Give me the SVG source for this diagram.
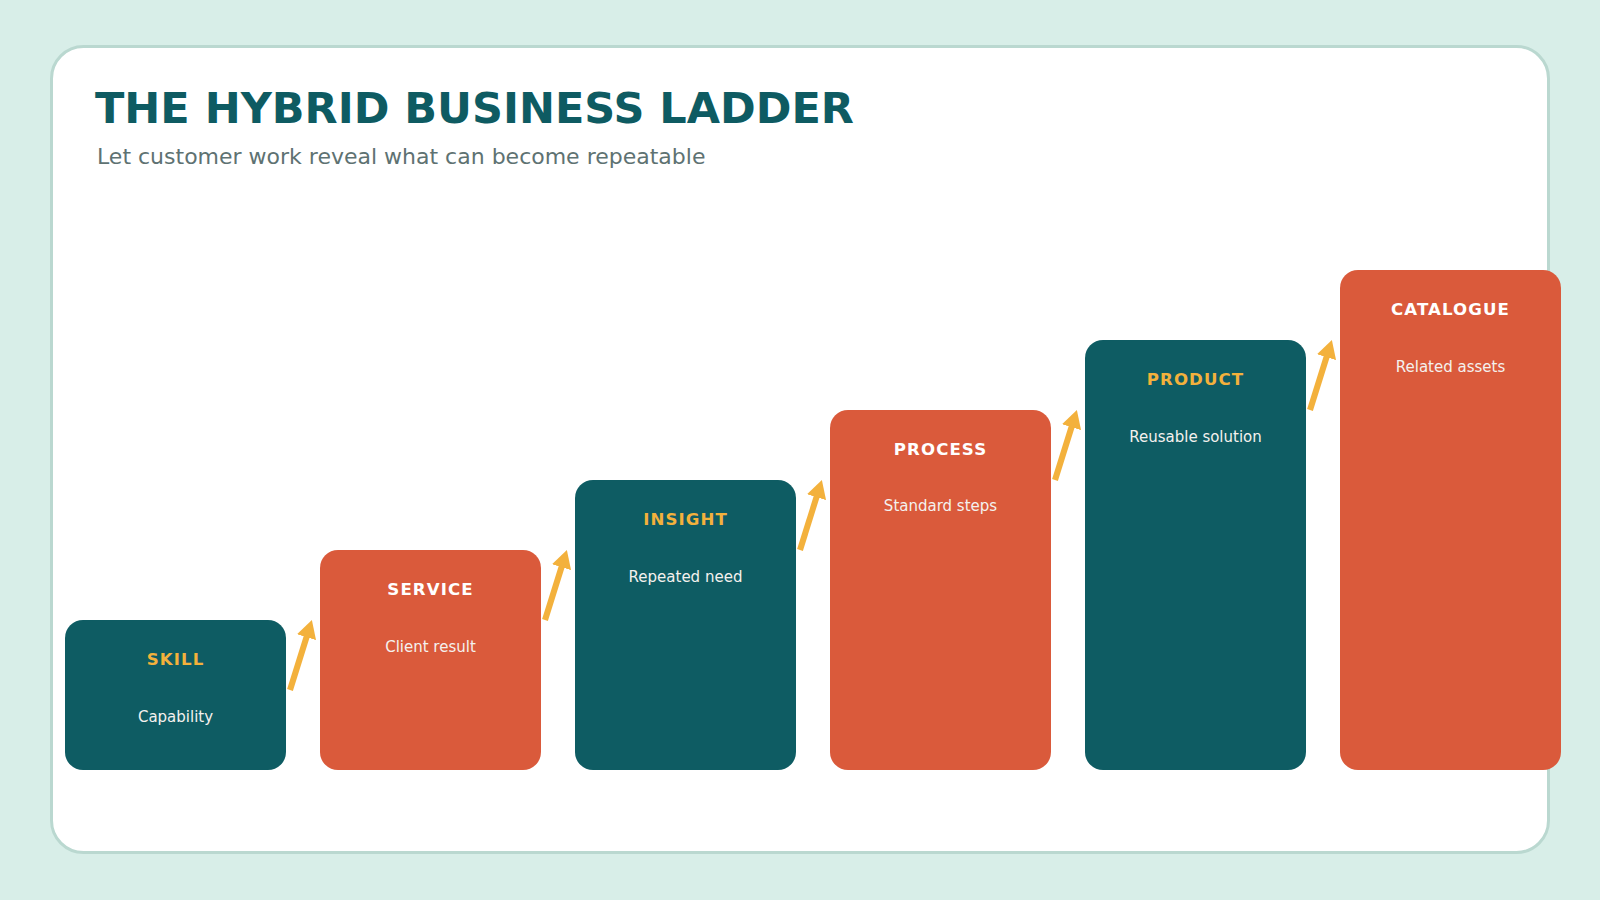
<svg xmlns="http://www.w3.org/2000/svg" width="1600" height="900" viewBox="0 0 1600 900">
  <defs>
    <style>
      .title { font-family: "DejaVu Sans", "Noto Sans", sans-serif; font-weight: bold; font-size: 43px; fill: #0E5B62; }
      .subtitle { font-family: "DejaVu Sans", "Noto Sans", sans-serif; font-size: 22px; fill: #5E7272; }
      .teal { fill: #0E5C63; }
      .red { fill: #DA5A3B; }
      .lbl { font-family: "DejaVu Sans", "Noto Sans", sans-serif; font-weight: bold; font-size: 16.6px; letter-spacing: 1.1px; text-anchor: middle; }
      .lbl-y { fill: #F3B13C; }
      .lbl-w { fill: #FFFFFF; }
      .sub { font-family: "DejaVu Sans", "Noto Sans", sans-serif; font-size: 15px; fill: #F4F1EE; text-anchor: middle; }
      .arrow { stroke: #F3B13C; stroke-width: 6; fill: none; marker-end: url(#head); }
    </style>
    <marker id="head" markerUnits="userSpaceOnUse" markerWidth="20" markerHeight="20" refX="8" refY="10" orient="auto">
      <path d="M0,0 L18,10 L0,20 Z" fill="#F3B13C"/>
    </marker>
  </defs>

  <rect x="0" y="0" width="1600" height="900" fill="#D8EEE8"/>
  <rect x="51.5" y="46.5" width="1497" height="806" rx="32" ry="32" fill="#FFFFFF" stroke="#BAD8D0" stroke-width="3"/>

  <text class="title" x="95" y="123">THE HYBRID BUSINESS LADDER</text>
  <text class="subtitle" x="97" y="164">Let customer work reveal what can become repeatable</text>

  <g id="skill">
    <rect class="teal" x="65" y="620" width="221" height="150" rx="18" ry="18"/>
    <text class="lbl lbl-y" x="175.5" y="665">SKILL</text>
    <text class="sub" x="175.5" y="722">Capability</text>
  </g>
  <g id="service">
    <rect class="red" x="320" y="550" width="221" height="220" rx="18" ry="18"/>
    <text class="lbl lbl-w" x="430.5" y="595">SERVICE</text>
    <text class="sub" x="430.5" y="652">Client result</text>
  </g>
  <g id="insight">
    <rect class="teal" x="575" y="480" width="221" height="290" rx="18" ry="18"/>
    <text class="lbl lbl-y" x="685.5" y="525">INSIGHT</text>
    <text class="sub" x="685.5" y="582">Repeated need</text>
  </g>
  <g id="process">
    <rect class="red" x="830" y="410" width="221" height="360" rx="18" ry="18"/>
    <text class="lbl lbl-w" x="940.5" y="455">PROCESS</text>
    <text class="sub" x="940.5" y="511">Standard steps</text>
  </g>
  <g id="product">
    <rect class="teal" x="1085" y="340" width="221" height="430" rx="18" ry="18"/>
    <text class="lbl lbl-y" x="1195.5" y="385">PRODUCT</text>
    <text class="sub" x="1195.5" y="442">Reusable solution</text>
  </g>
  <g id="catalogue">
    <rect class="red" x="1340" y="270" width="221" height="500" rx="18" ry="18"/>
    <text class="lbl lbl-w" x="1450.5" y="315">CATALOGUE</text>
    <text class="sub" x="1450.5" y="372">Related assets</text>
  </g>

  <g id="connectors">
    <line class="arrow" x1="290" y1="690" x2="308.9" y2="629.5"/>
    <line class="arrow" x1="545" y1="620" x2="563.9" y2="559.5"/>
    <line class="arrow" x1="800" y1="550" x2="818.9" y2="489.5"/>
    <line class="arrow" x1="1055" y1="480" x2="1073.9" y2="419.5"/>
    <line class="arrow" x1="1310" y1="410" x2="1328.9" y2="349.5"/>
  </g>
</svg>
